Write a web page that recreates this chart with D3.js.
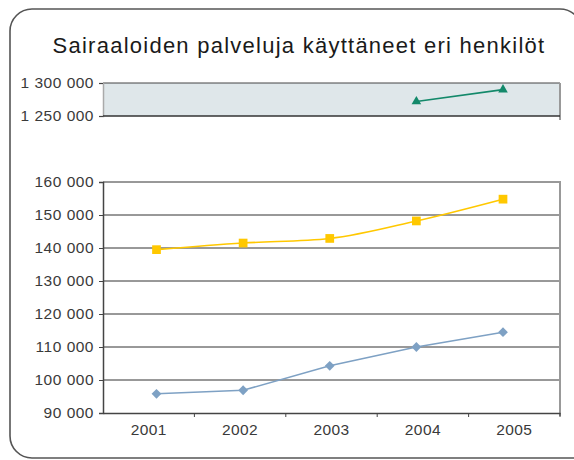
<!DOCTYPE html>
<html>
<head>
<meta charset="utf-8">
<script src="https://cdn.jsdelivr.net/npm/d3@7"></script>
<style>
html, body { margin: 0; padding: 0; background: #fff; overflow: hidden; }
svg { display: block; }
text { font-family: "Liberation Sans", Arial, Helvetica, sans-serif; }
</style>
</head>
<body>
<svg width="574" height="460"></svg>
<script>
// data
var title = "Sairaaloiden palveluja käyttäneet eri henkilöt";
var years = ["2001", "2002", "2003", "2004", "2005"];
var yellowValues = [139500, 141500, 142900, 148200, 154800];
var blueValues = [95800, 96900, 104300, 110000, 114500];
var greenYears = ["2004", "2005"];
var greenValues = [1272000, 1290000];
var lowTicks = [90000, 100000, 110000, 120000, 130000, 140000, 150000, 160000];
var highTicks = [1250000, 1300000];

var left = 103, right = 560;

var fmt = d3.formatLocale({decimal: ",", thousands: "\u00a0", grouping: [3], currency: ["", ""]}).format(",d");

var svg = d3.select("svg");

// rounded frame, its right side is off the picture
var frame = d3.path();
frame.moveTo(574, 458);
frame.lineTo(32, 458);
frame.arcTo(10, 458, 10, 436, 22);
frame.lineTo(10, 31);
frame.arcTo(10, 9, 32, 9, 22);
frame.lineTo(560, 9);
frame.arcTo(582, 9, 582, 31, 22);
svg.append("path")
    .attr("d", frame.toString())
    .style("fill", "none")
    .style("stroke", "#555")
    .style("stroke-width", 1.6);

svg.append("text")
    .attr("x", 299).attr("y", 52.5)
    .attr("text-anchor", "middle")
    .style("font-size", "22px")
    .style("letter-spacing", "1.25px")
    .style("fill", "#1a1a1a")
    .text(title);

// scales
var xBand = d3.scaleBand().domain(years).range([left, right]);
var xPoint = d3.scalePoint().domain(years).range([156.5, 503]);
var yLow = d3.scaleLinear().domain([90000, 160000]).range([413, 182]);
var yHigh = d3.scaleLinear().domain([1250000, 1300000]).range([116, 83]);

// top panel
svg.append("rect")
    .attr("x", left).attr("y", yHigh(1300000))
    .attr("width", right - left).attr("height", yHigh(1250000) - yHigh(1300000))
    .style("fill", "#dfe7ea");

svg.append("line")
    .attr("x1", left).attr("x2", right)
    .attr("y1", yHigh(1300000)).attr("y2", yHigh(1300000))
    .style("stroke", "#444");
svg.append("line")
    .attr("x1", right).attr("x2", right)
    .attr("y1", yHigh(1300000)).attr("y2", yHigh(1250000) + 4)
    .style("stroke", "#999").style("stroke-width", 2);

var topAxis = svg.append("g")
    .attr("transform", "translate(" + left + ",0)")
    .call(d3.axisLeft(yHigh).tickValues(highTicks).tickSize(4).tickPadding(5).tickFormat(fmt));

svg.append("line")
    .attr("x1", left).attr("x2", right)
    .attr("y1", yHigh(1250000)).attr("y2", yHigh(1250000))
    .style("stroke", "#333").style("stroke-width", 1.5);

// bottom panel gridlines
svg.append("g").selectAll("line")
    .data(lowTicks.slice(1))
    .enter().append("line")
    .attr("x1", left).attr("x2", right)
    .attr("y1", d => yLow(d)).attr("y2", d => yLow(d))
    .style("stroke", "#333");

svg.append("line")
    .attr("x1", right).attr("x2", right)
    .attr("y1", yLow(160000) - 1).attr("y2", yLow(90000) + 3)
    .style("stroke", "#999").style("stroke-width", 2);

var lowAxis = svg.append("g")
    .attr("transform", "translate(" + left + ",0)")
    .call(d3.axisLeft(yLow).tickValues(lowTicks).tickSize(4).tickPadding(5).tickFormat(fmt));

var xAxis = svg.append("g")
    .attr("transform", "translate(0," + yLow(90000) + ")")
    .call(d3.axisBottom(xBand).tickSize(0).tickPadding(11));

// tick marks sit between the categories
svg.append("g").selectAll("line")
    .data(years.slice(1).concat(["end"]))
    .enter().append("line")
    .attr("x1", d => d == "end" ? right : xBand(d))
    .attr("x2", d => d == "end" ? right : xBand(d))
    .attr("y1", yLow(90000)).attr("y2", yLow(90000) + 4)
    .style("stroke", "#444");

[topAxis, lowAxis, xAxis].forEach(function(a) {
    a.attr("font-size", null).attr("font-family", null);
    a.selectAll("path.domain").style("stroke", "#444").style("stroke-width", 1.5);
    a.selectAll(".tick line").style("stroke", "#444");
    a.selectAll("text")
        .style("font-family", "'Liberation Sans', Arial, sans-serif")
        .style("font-size", "15.5px")
        .style("letter-spacing", "0.5px")
        .style("fill", "#3a3a3a");
});
xAxis.selectAll("text").style("letter-spacing", "0.4px");
topAxis.select("path.domain").style("stroke", "#aaa");

// lines
var yellowData = years.map((d, i) => [xPoint(d), yLow(yellowValues[i])]);
var blueData = years.map((d, i) => [xPoint(d), yLow(blueValues[i])]);
var greenData = greenYears.map((d, i) => [xPoint(d), yHigh(greenValues[i])]);

svg.append("path")
    .datum(blueData)
    .attr("d", d3.line())
    .style("fill", "none")
    .style("stroke", "#7ea1c4")
    .style("stroke-width", 1.5);

svg.append("path")
    .datum(yellowData)
    .attr("d", d3.line().curve(d3.curveMonotoneX))
    .style("fill", "none")
    .style("stroke", "#ffc800")
    .style("stroke-width", 1.6);

svg.append("path")
    .datum(greenData)
    .attr("d", d3.line())
    .style("fill", "none")
    .style("stroke", "#13896a")
    .style("stroke-width", 1.6);

// markers
svg.append("g").selectAll("path")
    .data(blueData)
    .enter().append("path")
    .attr("transform", d => "translate(" + d[0] + "," + d[1] + ") rotate(45)")
    .attr("d", d3.symbol().type(d3.symbolSquare).size(48))
    .style("fill", "#7ea1c4");

svg.append("g").selectAll("path")
    .data(yellowData)
    .enter().append("path")
    .attr("transform", d => "translate(" + d[0] + "," + d[1] + ")")
    .attr("d", d3.symbol().type(d3.symbolSquare).size(76))
    .style("fill", "#ffc800");

svg.append("g").selectAll("path")
    .data(greenData)
    .enter().append("path")
    .attr("transform", d => "translate(" + d[0] + "," + d[1] + ")")
    .attr("d", d3.symbol().type(d3.symbolTriangle).size(40))
    .style("fill", "#13896a");
</script>
</body>
</html>
